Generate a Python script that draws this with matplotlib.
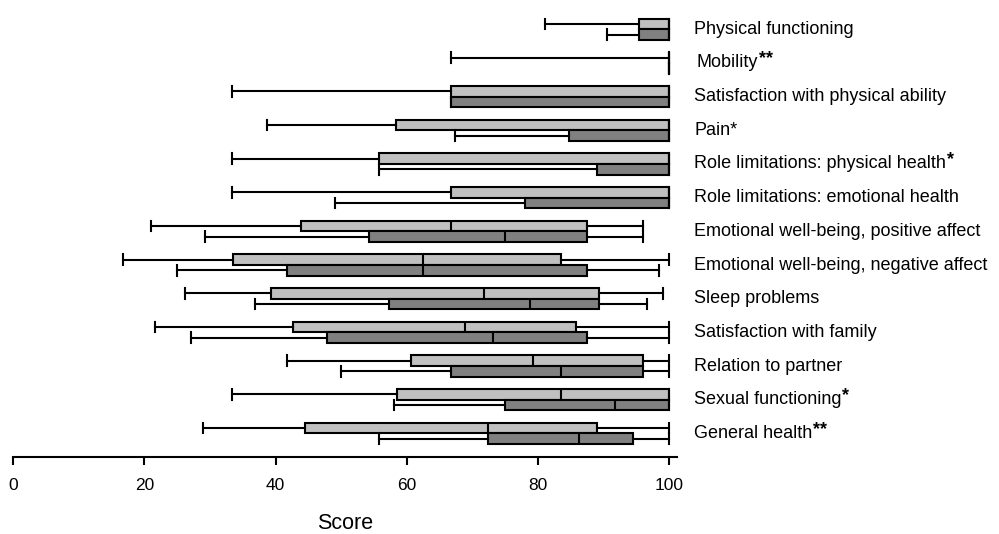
import matplotlib
matplotlib.use("Agg")
import matplotlib.pyplot as plt

plt.rcParams['font.family'] = ['Liberation Sans', 'DejaVu Sans']

categories = [
    "Physical functioning", "Mobility", "Satisfaction with physical ability", "Pain",
    "Role limitations: physical health", "Role limitations: emotional health",
    "Emotional well-being, positive affect", "Emotional well-being, negative affect",
    "Sleep problems", "Satisfaction with family", "Relation to partner",
    "Sexual functioning", "General health",
]
stars = ["", "**", "", "*", "*", "", "", "", "", "", "", "*", "**"]

# group 1 (light, upper box): min, q1, median, q3, max
g1_min = [81.0, 66.7, 33.3, 38.7, 33.3, 33.3, 21.0, 16.8, 26.2, 21.6, 41.7, 33.3, 29.0]
g1_q1  = [95.4, 100, 66.7, 58.3, 55.8, 66.7, 43.9, 33.5, 39.3, 42.7, 60.6, 58.5, 44.5]
g1_med = [100, 100, 100, 100, 100, 100, 66.8, 62.5, 71.7, 68.9, 79.2, 83.5, 72.3]
g1_q3  = [100, 100, 100, 100, 100, 100, 87.5, 83.5, 89.3, 85.8, 96.0, 100, 89.0]
g1_max = [100, 100, 100, 100, 100, 100, 96.0, 100, 99.1, 100, 100, 100, 100]

# group 2 (dark, lower box)
g2_min = [90.5, 100, 66.7, 67.3, 55.8, 49.1, 29.2, 25.0, 36.9, 27.1, 50.0, 58.0, 55.8]
g2_q1  = [95.4, 100, 66.7, 84.7, 89.0, 78.0, 54.3, 41.7, 57.3, 47.8, 66.8, 75.0, 72.3]
g2_med = [100, 100, 100, 100, 100, 100, 75.0, 62.5, 78.7, 73.1, 83.5, 91.8, 86.3]
g2_q3  = [100, 100, 100, 100, 100, 100, 87.5, 87.5, 89.3, 87.5, 96.0, 100, 94.5]
g2_max = [100, 100, 100, 100, 100, 100, 96.0, 98.5, 96.6, 100, 100, 100, 100]

x_ticks = [0, 20, 40, 60, 80, 100]
x_label = "Score"

W, H = 999, 534
fig = plt.figure(figsize=(W / 100, H / 100), dpi=100)
ax_left = 13 / W
ax_width = (677 - 13) / W
ax_bottom = 1 - 457.3 / H
ax_top = 1 - 4.0 / H
ax = fig.add_axes([ax_left, ax_bottom, ax_width, ax_top - ax_bottom])

bh = 0.318
lw = 1.5

def stats(mn, q1, md, q3, mx):
    return [dict(whislo=a, q1=b, med=c, q3=d, whishi=e, fliers=[])
            for a, b, c, d, e in zip(mn, q1, md, q3, mx)]

n = len(categories)
for st, off, col in [
    (stats(g1_min, g1_q1, g1_med, g1_q3, g1_max), -bh / 2, '#c0c0c0'),
    (stats(g2_min, g2_q1, g2_med, g2_q3, g2_max), bh / 2, '#808080'),
]:
    ax.bxp(st, positions=[i + off for i in range(n)], widths=bh,
           capwidths=bh, orientation='horizontal', patch_artist=True,
           showfliers=False,
           boxprops=dict(facecolor=col, edgecolor='black', linewidth=lw),
           medianprops=dict(color='black', linewidth=lw),
           whiskerprops=dict(color='black', linewidth=lw),
           capprops=dict(color='black', linewidth=lw))

ax.set_xlim(0, (677 - 13) / 6.563)
ax.set_ylim(12.71, -0.75)
ax.set_xticks(x_ticks)
ax.set_xticklabels([str(t) for t in x_ticks], fontsize=12.5)
ax.set_yticks([])
for s in ['top', 'right', 'left']:
    ax.spines[s].set_visible(False)
ax.spines['bottom'].set_linewidth(lw)
ax.tick_params(axis='x', direction='out', length=6, width=lw, pad=9)
ax.set_xlabel(x_label, fontsize=15.5, labelpad=14)

fig.canvas.draw()
for i, (cat, st) in enumerate(zip(categories, stars)):
    xoff = 2.5 if cat == "Mobility" else 0
    txt = cat + ("*" if cat == "Pain" else "")
    y_disp = ax.transData.transform((0, i))[1]
    t = fig.text((694 + xoff) / W, y_disp / H, txt, fontsize=13,
                 va='center', ha='left')
    if st and cat != "Pain":
        ax.annotate(st, xy=(1, 1), xycoords=t, xytext=(0.5, 3.0),
                    textcoords='offset points', fontsize=13,
                    fontweight='bold', ha='left', va='top')

fig.savefig("out.png", dpi=100)
